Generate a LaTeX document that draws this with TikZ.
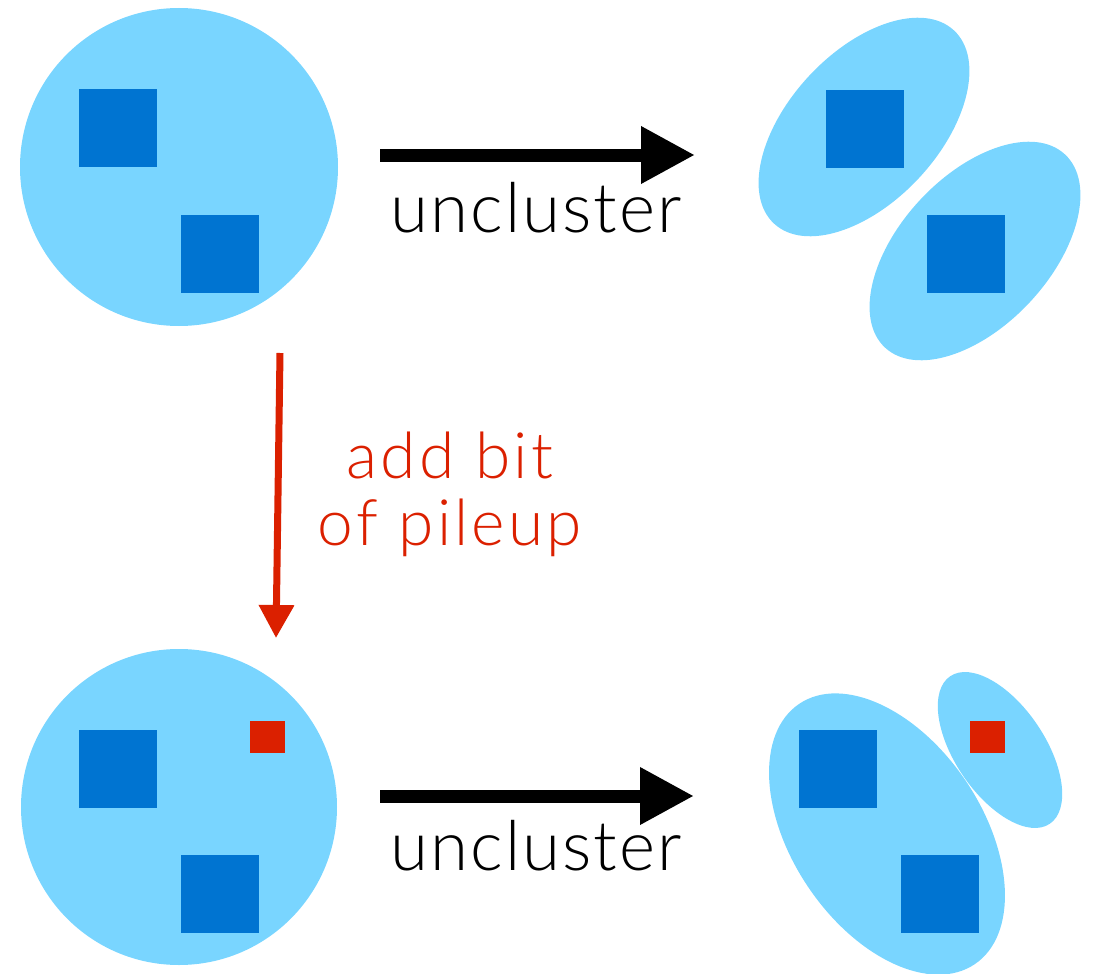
\documentclass[tikz,border=0pt]{standalone}
\usepackage{fontspec}
\setmainfont{Lato Light}
\usetikzlibrary{shapes.geometric, arrows.meta}

\definecolor{cloud}{HTML}{79D5FF}
\definecolor{hit}{HTML}{0074D1}
\definecolor{pu}{HTML}{DB2000}

\tikzset{
  blob/.style={ellipse, fill=cloud, inner sep=0pt},
  jet/.style={rectangle, fill=hit, minimum size=78pt, inner sep=0pt},
  puhit/.style={rectangle, fill=pu, minimum width=35pt, minimum height=32pt, inner sep=0pt},
  step arrow/.style={line width=13pt, -{Triangle[length=54pt,width=54pt]}},
  lbl/.style={font=\fontsize{69}{69}\selectfont\addfontfeature{LetterSpace=3}, anchor=base}
}

\begin{document}
\begin{tikzpicture}[x=1pt, y=-1pt]

            \useasboundingbox (0,0) rectangle (1096,974);

            % Upper left cluster
            \node[blob, circle, minimum size=318pt] (c1) at (179,167) {};
            \node[jet] (j1) at (118,128) {};
            \node[jet] (j2) at (220,254) {};

            % Upper right, split in two
            \node[blob, minimum width=264pt, minimum height=150pt, rotate=47] (e1) at (864,127) {};
            \node[blob, minimum width=264pt, minimum height=150pt, rotate=47] (e2) at (975,251) {};
            \node[jet] (j3) at (865,129) {};
            \node[jet] (j4) at (966,254) {};

            % Lower left cluster with pileup
            \node[blob, circle, minimum size=316pt] (c2) at (179,807) {};
            \node[jet] (j5) at (118,769) {};
            \node[jet] (j6) at (220,894) {};
            \node[puhit] (p1) at (267,737) {};

            % Lower right, split in two
            \node[blob, minimum width=314pt, minimum height=190pt, rotate=-56] (e3) at (887,834) {};
            \node[blob, minimum width=178pt, minimum height=90pt, rotate=-56] (e4) at (1000,750) {};
            \node[jet] (j7) at (838,769) {};
            \node[jet] (j8) at (940,894) {};
            \node[puhit] (p2) at (987,737) {};

            % Arrows
            \coordinate (a1) at (380,155);
            \coordinate (b1) at (695,155);
            \coordinate (a2) at (380,796);
            \coordinate (b2) at (694,796);
            \coordinate (a3) at (280,353);
            \coordinate (b3) at (276,638);

            \draw[step arrow] (a1) -- (b1);
            \draw[step arrow] (a2) -- (b2);
            \draw[pu, line width=7pt, -{Triangle[length=33pt,width=34pt]}] (a3) -- (b3);

            % Labels
            \node[lbl] (u1) at (536,232) {uncluster};
            \node[lbl] (u2) at (536,870) {uncluster};
            \node[pu, font=\fontsize{64}{67}\selectfont\addfontfeature{LetterSpace=5}, align=center, anchor=base] (t1) at (450,545) {add bit\\of pileup};

        \end{tikzpicture}
\end{document}
